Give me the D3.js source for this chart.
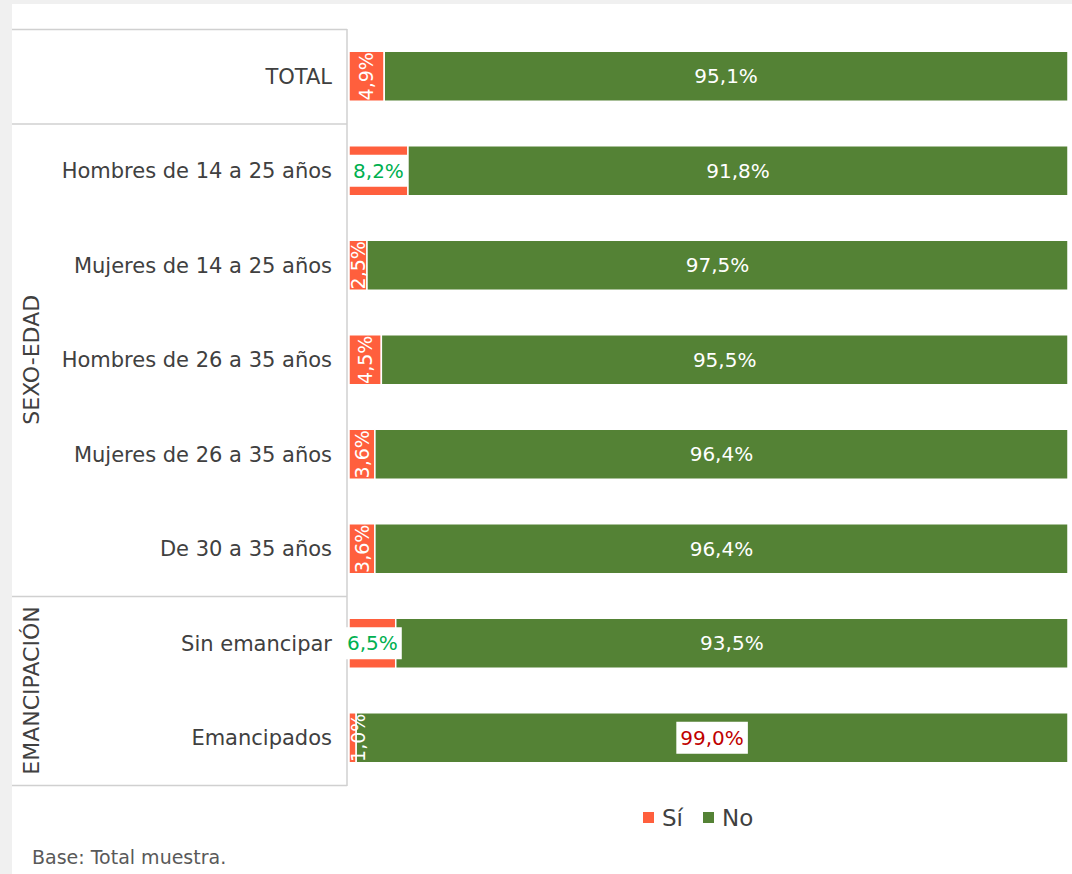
<!DOCTYPE html>
<html>
<head>
<meta charset="utf-8">
<script src="https://cdn.jsdelivr.net/npm/d3@7"></script>
<style>
  body { margin: 0; background: #f0f0f0; }
  svg { display: block; }
  text { font-family: "DejaVu Sans", Verdana, sans-serif; }
</style>
</head>
<body>
<div id="chart-area"></div>
<script>
// Data
const categories = ["TOTAL", "Hombres de 14 a 25 años", "Mujeres de 14 a 25 años",
  "Hombres de 26 a 35 años", "Mujeres de 26 a 35 años", "De 30 a 35 años",
  "Sin emancipar", "Emancipados"];
const siValues = [4.9, 8.2, 2.5, 4.5, 3.6, 3.6, 6.5, 1.0];
const noValues = [95.1, 91.8, 97.5, 95.5, 96.4, 96.4, 93.5, 99.0];
const seriesNames = ["Sí", "No"];
const groups = [
  { name: "SEXO-EDAD", from: 1, to: 5 },
  { name: "EMANCIPACIÓN", from: 6, to: 7 }
];

const W = 1072, H = 874;
const colors = { "Sí": "#ff5f3d", "No": "#548235" };

const svg = d3.select("#chart-area")
  .append("svg")
  .attr("width", W)
  .attr("height", H);

// White panel
svg.append("rect")
  .attr("x", 12).attr("y", 4)
  .attr("width", W - 12).attr("height", H - 4)
  .attr("fill", "#fff");

// Scales
const xScale = d3.scaleLinear().domain([0, 100]).range([349, 1068]);
const yScale = d3.scaleBand().domain(categories).range([29, 785]);
const barH = 50;
const fmt = v => d3.format(".1f")(v).replace(".", ",") + "%";

// Category table lines
const lineColor = "#d0d0d0";
const tableLeft = 12, tableRight = 347;
const hLines = [yScale(categories[0]), yScale(categories[1]), yScale(categories[6]), yScale.range()[1]];
svg.selectAll(".hline").data(hLines).enter()
  .append("line")
  .attr("x1", tableLeft).attr("x2", tableRight)
  .attr("y1", d => d + 0.5).attr("y2", d => d + 0.5)
  .attr("stroke", lineColor).attr("stroke-width", 1.5);
svg.append("line")
  .attr("x1", tableRight).attr("x2", tableRight)
  .attr("y1", yScale.range()[0]).attr("y2", yScale.range()[1] + 1)
  .attr("stroke", lineColor).attr("stroke-width", 1.5);

// Category labels
svg.selectAll(".cat-label").data(categories).enter()
  .append("text")
  .attr("class", "cat-label")
  .attr("x", 332)
  .attr("y", d => yScale(d) + yScale.bandwidth() / 2)
  .attr("dy", "0.36em")
  .attr("text-anchor", "end")
  .attr("fill", "#404040")
  .style("font-size", "21px")
  .text(d => d);

// Group labels
groups.forEach(g => {
  const y0 = yScale(categories[g.from]);
  const y1 = yScale(categories[g.to]) + yScale.bandwidth();
  svg.append("text")
    .attr("transform", "translate(31," + ((y0 + y1) / 2) + ") rotate(-90)")
    .attr("text-anchor", "middle")
    .attr("dy", "0.36em")
    .attr("fill", "#404040")
    .style("font-size", "22px")
    .text(g.name);
});

// Bars
const rows = categories.map((c, i) => ({ cat: c, si: siValues[i], no: noValues[i] }));
const rowG = svg.selectAll(".row").data(rows).enter()
  .append("g")
  .attr("transform", d => "translate(0," + (yScale(d.cat) + (yScale.bandwidth() - barH) / 2) + ")");

rowG.append("rect")
  .attr("x", xScale(0))
  .attr("width", d => xScale(d.si) - xScale(0))
  .attr("height", barH)
  .attr("fill", colors["Sí"])
  .attr("stroke", "#fff").attr("stroke-width", 1.5);

rowG.append("rect")
  .attr("x", d => xScale(d.si))
  .attr("width", d => xScale(d.si + d.no) - xScale(d.si))
  .attr("height", barH)
  .attr("fill", colors["No"])
  .attr("stroke", "#fff").attr("stroke-width", 1.5);

// boxed label helper
function boxedLabel(g, x, text, color) {
  const box = g.append("rect").attr("fill", "#fff");
  const t = g.append("text")
    .attr("x", x).attr("y", barH / 2)
    .attr("dy", "0.36em")
    .attr("text-anchor", "middle")
    .attr("fill", color)
    .style("font-size", "20px")
    .text(text);
  const bb = t.node().getBBox();
  box.attr("x", bb.x - 4).attr("y", barH / 2 - 16)
    .attr("width", bb.width + 8).attr("height", 32);
}

// Labels
rowG.each(function(d) {
  const g = d3.select(this);
  const cx = (xScale(0) + xScale(d.si)) / 2;
  if (d.si > 5) {
    boxedLabel(g, cx, fmt(d.si), "#00b050");
  } else {
    g.append("text")
      .attr("transform", "translate(" + Math.max(cx, xScale(0) + 9) + "," + barH / 2 + ") rotate(-90)")
      .attr("dy", "0.36em")
      .attr("text-anchor", "middle")
      .attr("fill", "#fff")
      .style("font-size", "19px")
      .text(fmt(d.si));
  }

  const nx = (xScale(d.si) + xScale(d.si + d.no)) / 2;
  if (d.no >= 99) {
    boxedLabel(g, nx, fmt(d.no), "#c00000");
  } else {
    g.append("text")
      .attr("x", nx).attr("y", barH / 2)
      .attr("dy", "0.36em")
      .attr("text-anchor", "middle")
      .attr("fill", "#fff")
      .style("font-size", "20px")
      .text(fmt(d.no));
  }
});

// Legend
const legend = svg.append("g").attr("transform", "translate(643,818)");
const legendX = [0, 60];
seriesNames.forEach((s, i) => {
  legend.append("rect")
    .attr("x", legendX[i]).attr("y", -6)
    .attr("width", 11).attr("height", 11)
    .attr("fill", colors[s]);
  legend.append("text")
    .attr("x", legendX[i] + 19).attr("y", 0)
    .attr("dy", "0.36em")
    .attr("fill", "#404040")
    .style("font-size", "23px")
    .text(s);
});

// Footnote
svg.append("text")
  .attr("x", 32).attr("y", 857)
  .attr("dy", "0.36em")
  .attr("fill", "#595959")
  .style("font-size", "19px")
  .text("Base: Total muestra.");
</script>
</body>
</html>
